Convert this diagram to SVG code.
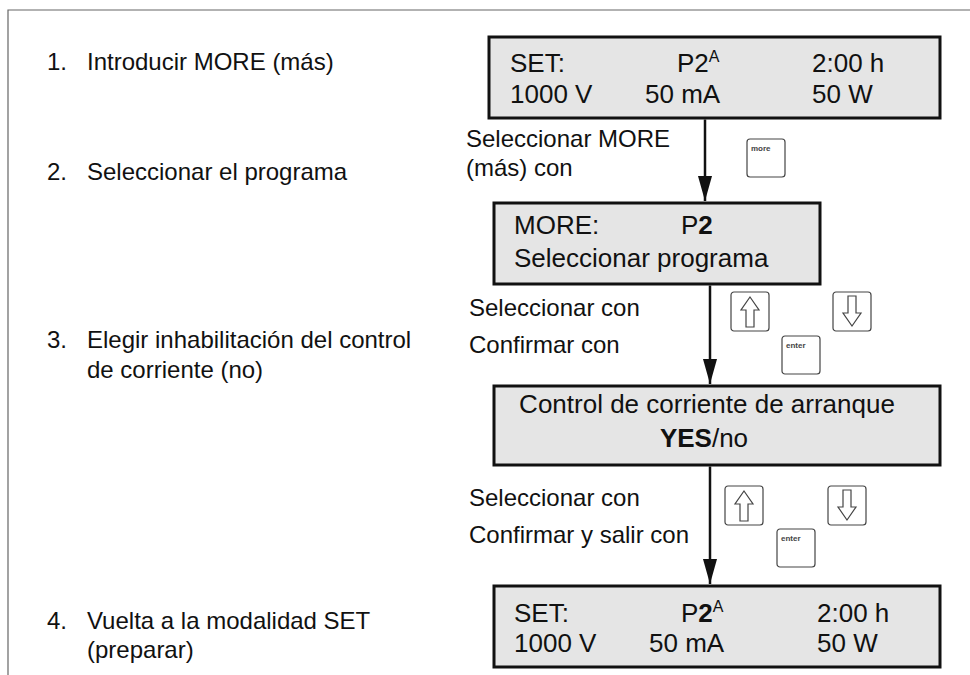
<svg xmlns="http://www.w3.org/2000/svg" width="970" height="675" viewBox="0 0 970 675">
<style>
  text { font-family: "Liberation Sans", Arial, sans-serif; fill: #111; }
  .step { font-size: 24px; }
  .lbl { font-size: 24px; }
  .disp { font-size: 26px; }
  .sup { font-size: 16px; }
  .b { font-weight: bold; }
  .box { fill: #e5e5e5; stroke: #111; stroke-width: 3; }
  .key { fill: #fff; stroke: #444; stroke-width: 1.2; }
  .keytxt { font-size: 8px; font-weight: bold; fill: #444; }
  .ico { fill: #fff; stroke: #444; stroke-width: 1.2; stroke-linejoin: miter; }
  .conn { stroke: #111; stroke-width: 2.5; fill: none; marker-end: url(#ah); }
</style>
<defs>
  <marker id="ah" markerUnits="userSpaceOnUse" markerWidth="26" markerHeight="16" refX="25" refY="7" orient="auto">
    <path d="M0,0 L25,7 L0,14 z" fill="#111"/>
  </marker>
  <g id="up">
    <rect class="key" x="0" y="0" width="38" height="39" rx="3"/>
    <path class="ico" d="M19,5 L28,18 L23,18 L23,35 L15,35 L15,18 L10,18 z"/>
  </g>
  <g id="down">
    <rect class="key" x="0" y="0" width="38" height="39" rx="3"/>
    <path class="ico" d="M15,4 L23,4 L23,21 L28,21 L19,34 L10,21 L15,21 z"/>
  </g>
  <g id="enter">
    <rect class="key" x="0" y="0" width="38" height="38" rx="3"/>
    <text class="keytxt" x="4" y="12">enter</text>
  </g>
</defs>
<rect width="970" height="675" fill="#fff"/>
<g id="frame">
  <path d="M8,675 L8,10 L970,10" fill="none" stroke="#666" stroke-width="1.2"/>
</g>

<g id="steps">
  <g id="step1"><text class="step" x="47" y="70">1.</text><text class="step" x="87" y="70">Introducir MORE (más)</text></g>
  <g id="step2"><text class="step" x="47" y="180">2.</text><text class="step" x="87" y="180">Seleccionar el programa</text></g>
  <g id="step3"><text class="step" x="47" y="348">3.</text><text class="step" x="87" y="348">Elegir inhabilitación del control</text><text class="step" x="87" y="378">de corriente (no)</text></g>
  <g id="step4"><text class="step" x="47" y="629">4.</text><text class="step" x="87" y="629">Vuelta a la modalidad SET</text><text class="step" x="87" y="658">(preparar)</text></g>
</g>

<g id="connectors">
  <line class="conn" x1="705" y1="119.5" x2="705" y2="201"/>
  <line class="conn" x1="710" y1="285.5" x2="710" y2="384"/>
  <line class="conn" x1="710" y1="466.5" x2="710" y2="584"/>
</g>

<g id="display1">
  <rect class="box" x="489" y="37" width="451" height="81"/>
  <text class="disp" x="510" y="72">SET:</text>
  <text class="disp" x="677" y="72">P2<tspan class="sup" dy="-10">A</tspan></text>
  <text class="disp" x="812" y="72">2:00 h</text>
  <text class="disp" x="510" y="103">1000 V</text>
  <text class="disp" x="645" y="103">50 mA</text>
  <text class="disp" x="812" y="103">50 W</text>
</g>

<g id="action1">
  <text class="lbl" x="466" y="147">Seleccionar MORE</text>
  <text class="lbl" x="466" y="176">(más) con</text>
  <g id="key-more">
    <rect class="key" x="747" y="139" width="38" height="38" rx="3"/>
    <text class="keytxt" x="751" y="151">more</text>
  </g>
</g>

<g id="display2">
  <rect class="box" x="494" y="203" width="326" height="81"/>
  <text class="disp" x="514" y="234">MORE:</text>
  <text class="disp" x="681" y="234">P<tspan class="b">2</tspan></text>
  <text class="disp" x="514" y="267">Seleccionar programa</text>
</g>

<g id="action2">
  <text class="lbl" x="469" y="316">Seleccionar con</text>
  <text class="lbl" x="469" y="353">Confirmar con</text>
  <use href="#up" x="731" y="292"/>
  <use href="#down" x="833" y="292"/>
  <use href="#enter" x="782" y="336"/>
</g>

<g id="display3">
  <rect class="box" x="494" y="386" width="446" height="79"/>
  <text class="disp" x="707" y="413" text-anchor="middle">Control de corriente de arranque</text>
  <text class="disp" x="704" y="447" text-anchor="middle"><tspan class="b">YES</tspan>/no</text>
</g>

<g id="action3">
  <text class="lbl" x="469" y="506">Seleccionar con</text>
  <text class="lbl" x="469" y="543">Confirmar y salir con</text>
  <use href="#up" x="725" y="486"/>
  <use href="#down" x="828" y="486"/>
  <use href="#enter" x="777" y="529"/>
</g>

<g id="display4">
  <rect class="box" x="494" y="586" width="446" height="81"/>
  <text class="disp" x="514" y="622">SET:</text>
  <text class="disp" x="681" y="622">P<tspan class="b">2</tspan><tspan class="sup" dy="-10">A</tspan></text>
  <text class="disp" x="817" y="622">2:00 h</text>
  <text class="disp" x="514" y="652">1000 V</text>
  <text class="disp" x="649" y="652">50 mA</text>
  <text class="disp" x="817" y="652">50 W</text>
</g>
</svg>
